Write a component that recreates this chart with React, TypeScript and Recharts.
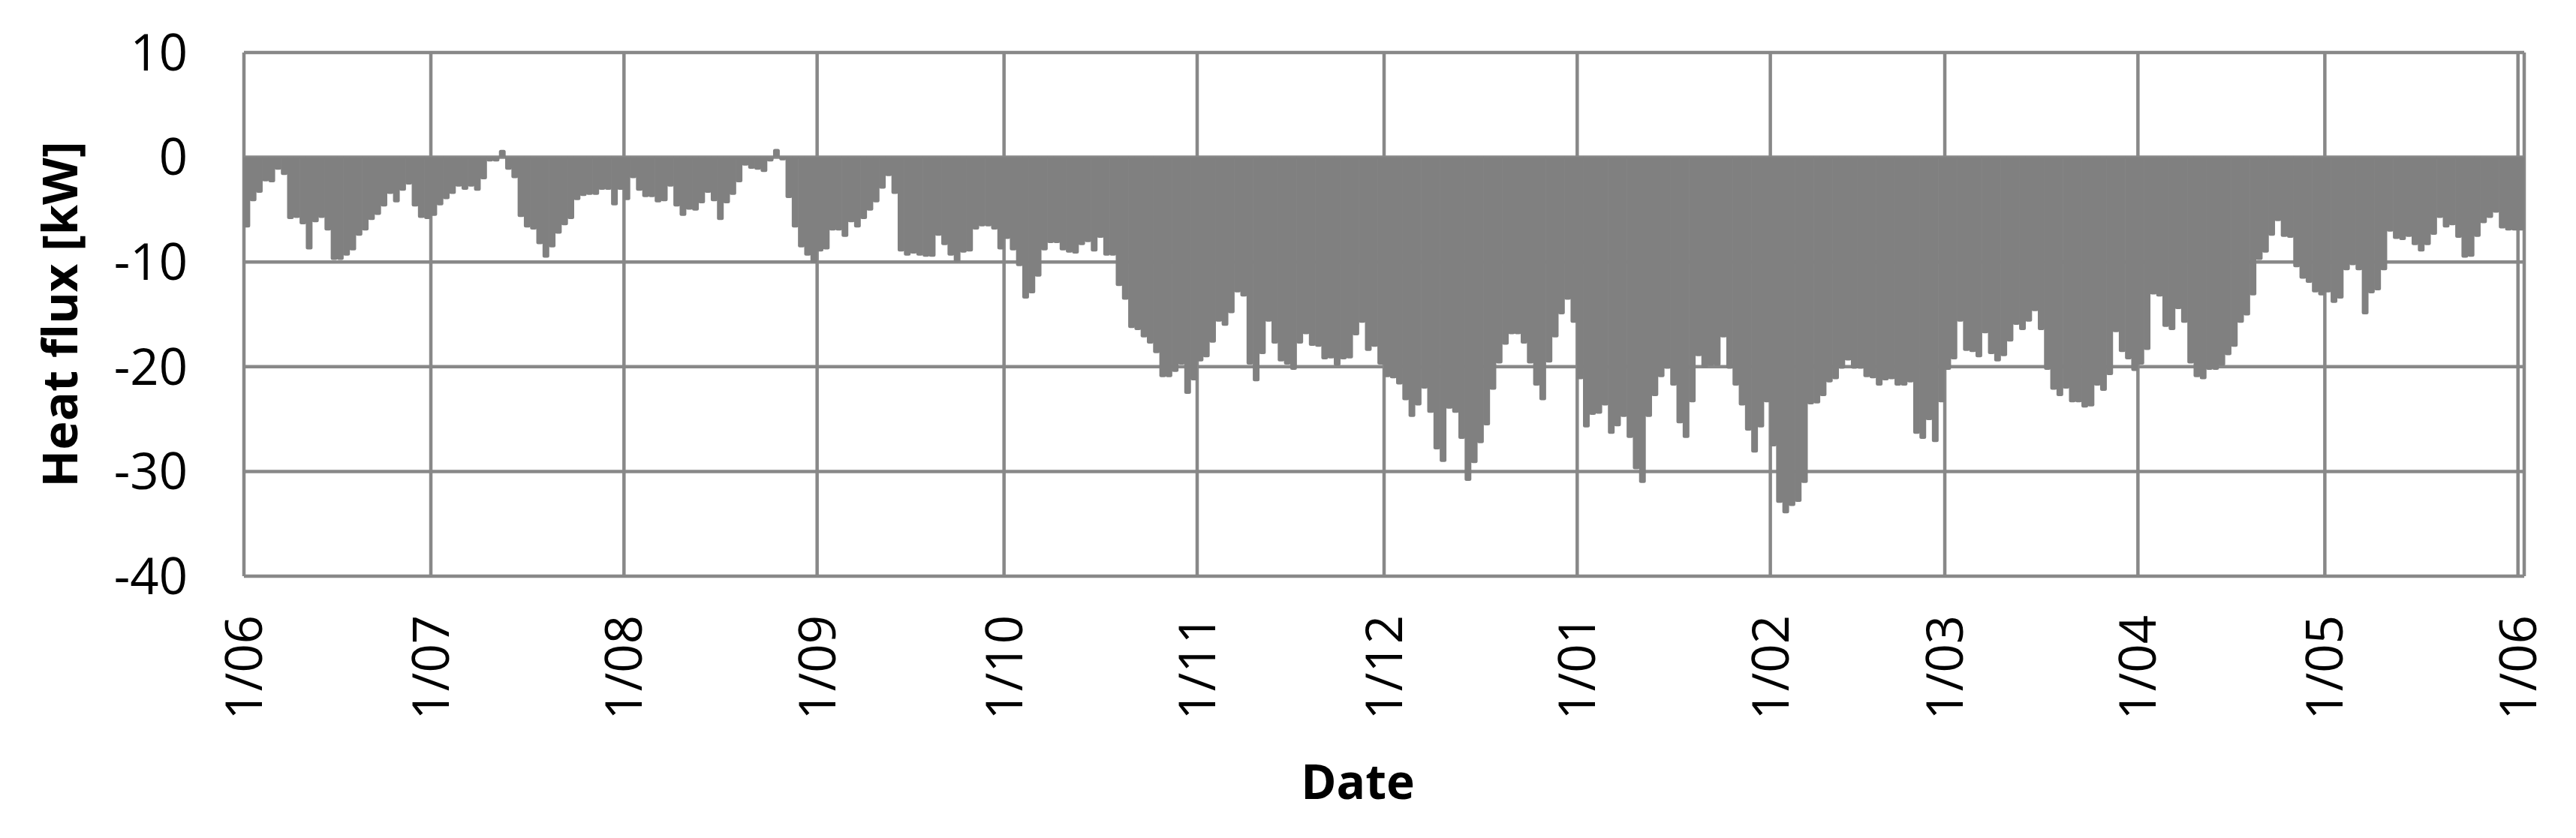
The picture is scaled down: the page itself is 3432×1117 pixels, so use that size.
import React from "react";
import { BarChart, Bar, XAxis, YAxis, CartesianGrid, Label } from "recharts";

// Daily heat flux [kW], one array per month (1 June -> 1 June of the next year)
const june = [-6.7, -4.2, -3.4, -2.3, -2.4, -1.2, -1.7, -5.9, -5.8, -6.4, -8.8, -6.2, -5.8, -7.0, -9.8, -9.8, -9.4, -8.9, -7.5, -7.0, -6.0, -5.5, -4.7, -3.5, -4.3, -3.2, -2.6, -4.7, -5.8, -5.9];
const july = [-5.6, -4.6, -4.0, -3.5, -2.8, -3.1, -2.8, -3.2, -2.1, -0.4, -0.4, 0.7, -1.2, -2.0, -5.7, -6.7, -6.9, -8.3, -9.6, -8.6, -7.3, -6.5, -5.9, -4.1, -3.7, -3.6, -3.6, -3.1, -3.1, -4.6, -3.1];
const august = [-4.1, -2.0, -3.2, -3.8, -3.8, -4.3, -4.2, -2.8, -4.7, -5.6, -5.0, -5.1, -4.4, -3.4, -4.2, -6.0, -4.4, -3.6, -2.4, -0.8, -1.1, -1.2, -1.4, -0.4, 0.8, -0.3, -3.9, -6.7, -8.6, -9.4, -10.1];
const september = [-9.0, -8.8, -7.0, -7.0, -7.6, -6.2, -6.7, -5.9, -5.1, -4.3, -3.0, -1.8, -3.5, -9.0, -9.4, -9.2, -9.4, -9.5, -9.5, -7.5, -8.4, -9.4, -10.0, -9.1, -9.0, -6.9, -6.6, -6.6, -6.9, -8.8];
const october = [-7.8, -8.9, -10.4, -13.5, -13.0, -11.4, -8.9, -8.2, -8.2, -8.9, -9.1, -9.2, -8.4, -8.1, -9.0, -7.7, -9.4, -9.4, -12.3, -13.6, -16.3, -16.5, -17.2, -17.8, -18.7, -21.0, -21.0, -20.5, -19.8, -22.6, -21.3];
const november = [-19.5, -19.1, -17.7, -15.7, -16.1, -14.9, -12.9, -13.3, -19.8, -21.4, -18.8, -15.7, -17.8, -19.5, -19.8, -20.3, -17.8, -16.9, -18.0, -18.1, -19.3, -19.2, -19.9, -19.3, -19.2, -17.0, -15.8, -18.5, -18.1, -19.8];
const december = [-21.0, -21.1, -21.7, -23.2, -24.8, -23.7, -22.1, -24.4, -27.9, -29.1, -24.0, -24.4, -26.9, -30.9, -29.2, -27.3, -25.6, -22.2, -19.7, -17.9, -16.9, -16.9, -17.8, -19.7, -21.8, -23.2, -19.6, -17.2, -15.0, -13.6, -15.8];
const january = [-21.2, -25.8, -24.6, -24.5, -23.7, -26.4, -25.7, -24.8, -26.8, -29.8, -31.1, -24.8, -22.8, -21.0, -20.2, -21.8, -25.4, -26.8, -23.4, -19.0, -20.1, -19.9, -19.9, -17.2, -20.2, -21.8, -23.7, -26.1, -28.2, -25.8, -23.4];
const february = [-27.6, -33.0, -34.0, -33.3, -32.9, -31.1, -23.6, -23.5, -22.8, -21.5, -21.2, -20.2, -19.4, -20.2, -20.2, -21.0, -21.1, -21.8, -21.3, -21.2, -21.8, -21.8, -21.5, -26.4, -26.9, -25.1, -27.2, -23.4];
const march = [-20.3, -19.3, -15.7, -18.5, -18.6, -19.1, -16.8, -18.8, -19.5, -19.0, -17.6, -16.0, -16.5, -15.7, -14.7, -16.5, -20.3, -22.2, -22.8, -22.1, -23.4, -23.4, -23.9, -23.8, -21.8, -22.3, -20.8, -16.7, -18.6, -19.3, -20.4];
const april = [-19.8, -18.4, -13.1, -13.3, -16.2, -16.5, -14.5, -15.8, -19.7, -21.0, -21.2, -20.3, -20.3, -19.9, -18.9, -18.1, -15.8, -15.1, -13.2, -9.8, -9.1, -7.5, -6.1, -7.6, -7.7, -10.5, -11.6, -12.0, -12.9, -13.2];
const may = [-12.9, -13.9, -13.5, -10.8, -10.3, -10.8, -15.0, -13.0, -12.7, -10.8, -7.1, -7.8, -7.9, -7.6, -8.4, -9.0, -8.4, -7.4, -5.8, -6.7, -6.5, -7.7, -9.6, -9.5, -7.6, -6.3, -5.8, -5.3, -6.8, -7.0, -7.0];
const juneNext = [-7.0];

const months = [june, july, august, september, october, november, december, january, february, march, april, may, juneNext];
const monthLabels = ["1/06", "1/07", "1/08", "1/09", "1/10", "1/11", "1/12", "1/01", "1/02", "1/03", "1/04", "1/05", "1/06"];
const yTicks = [10, 0, -10, -20, -30, -40];

const allValues: number[] = months.flat();
const data = allValues.map((v, i) => ({ x: i + 0.5, v }));
const monthStarts: number[] = [];
{
  let acc = 0;
  for (const m of months) {
    monthStarts.push(acc);
    acc += m.length;
  }
}
const labelByTick: Record<number, string> = {};
monthStarts.forEach((d, i) => (labelByTick[d] = monthLabels[i]));

const FONT = "'Open Sans', 'Liberation Sans', sans-serif";
const CHART_W = 3416;
const CHART_H = 1100;
const PLOT_LEFT = 317;
const PLOT_RIGHT = 3355;
const PLOT_TOP = 62;
const PLOT_BOTTOM = 760;
const DAYS = allValues.length;
const BAR_W = (PLOT_RIGHT - PLOT_LEFT) / DAYS;
const BAR_FILL = "#808080";

const XTick = (props: any) => {
  const { x, y, payload } = props;
  return (
    <text
      x={x}
      y={y}
      dy="0.36em"
      transform={`rotate(-90, ${x}, ${y})`}
      textAnchor="end"
      fontSize={67}
      fontFamily={FONT}
      fill="#000"
    >
      {labelByTick[payload.value]}
    </text>
  );
};

const BarShape = (props: any) => {
  const { x, y, width, height, payload } = props;
  if (x == null || y == null || !width || height == null) return null;
  const top = Math.min(y, y + height);
  const h = Math.abs(height);
  const bottom = top + h;
  const left = x - 0.6;
  const right = x + width + 0.9;
  const r = Math.min(2.5, (right - left) / 2, h / 2);
  let d: string;
  if (payload && payload.v >= 0) {
    d = `M${left},${bottom} L${left},${top + r} Q${left},${top} ${left + r},${top} L${right - r},${top} Q${right},${top} ${right},${top + r} L${right},${bottom} Z`;
  } else {
    d = `M${left},${top} L${right},${top} L${right},${bottom - r} Q${right},${bottom} ${right - r},${bottom} L${left + r},${bottom} Q${left},${bottom} ${left},${bottom - r} Z`;
  }
  return <path d={d} fill={BAR_FILL} stroke="none" />;
};

const YTitle = (props: any) => {
  const vb = props.viewBox || { x: 0, y: PLOT_TOP, width: PLOT_LEFT, height: PLOT_BOTTOM - PLOT_TOP };
  const cx = vb.x + 70;
  const cy = vb.y + vb.height / 2;
  return (
    <text
      x={cx}
      y={cy}
      transform={`rotate(-90, ${cx}, ${cy})`}
      textAnchor="middle"
      dominantBaseline="central"
      fontSize={65}
      fontWeight="bold"
      fontFamily={FONT}
      fill="#000"
    >
      Heat flux [kW]
    </text>
  );
};

const XTitle = (props: any) => {
  const vb = props.viewBox || { x: PLOT_LEFT, y: PLOT_BOTTOM, width: PLOT_RIGHT - PLOT_LEFT, height: CHART_H - PLOT_BOTTOM };
  const cx = vb.x + vb.width / 2 - 35;
  const cy = vb.y + 272;
  return (
    <text
      x={cx}
      y={cy}
      textAnchor="middle"
      dominantBaseline="central"
      fontSize={64}
      fontWeight="bold"
      fontFamily={FONT}
      fill="#000"
    >
      Date
    </text>
  );
};

export default function App() {
  return (
    <div style={{ width: CHART_W, height: CHART_H, background: "#fff" }}>
      <BarChart
        width={CHART_W}
        height={CHART_H}
        data={data}
        margin={{ top: PLOT_TOP, right: CHART_W - PLOT_RIGHT, left: 0, bottom: 0 }}
        barCategoryGap={0}
        barGap={0}
      >
        <CartesianGrid stroke="#888888" strokeWidth={4.5} />
        <XAxis
          dataKey="x"
          type="number"
          domain={[0, DAYS]}
          ticks={monthStarts}
          interval={0}
          height={CHART_H - PLOT_BOTTOM}
          axisLine={false}
          tickLine={false}
          tickSize={0}
          tickMargin={52}
          tick={<XTick />}
        >
          <Label content={<XTitle />} />
        </XAxis>
        <YAxis
          type="number"
          domain={[-40, 10]}
          ticks={yTicks}
          interval={0}
          width={PLOT_LEFT}
          axisLine={false}
          tickLine={false}
          tickSize={0}
          tickMargin={75}
          tick={{ fontSize: 67, fontFamily: FONT, fill: "#000" }}
        >
          <Label content={<YTitle />} />
        </YAxis>
        <Bar dataKey="v" barSize={BAR_W} shape={<BarShape />} isAnimationActive={false} />
      </BarChart>
    </div>
  );
}
